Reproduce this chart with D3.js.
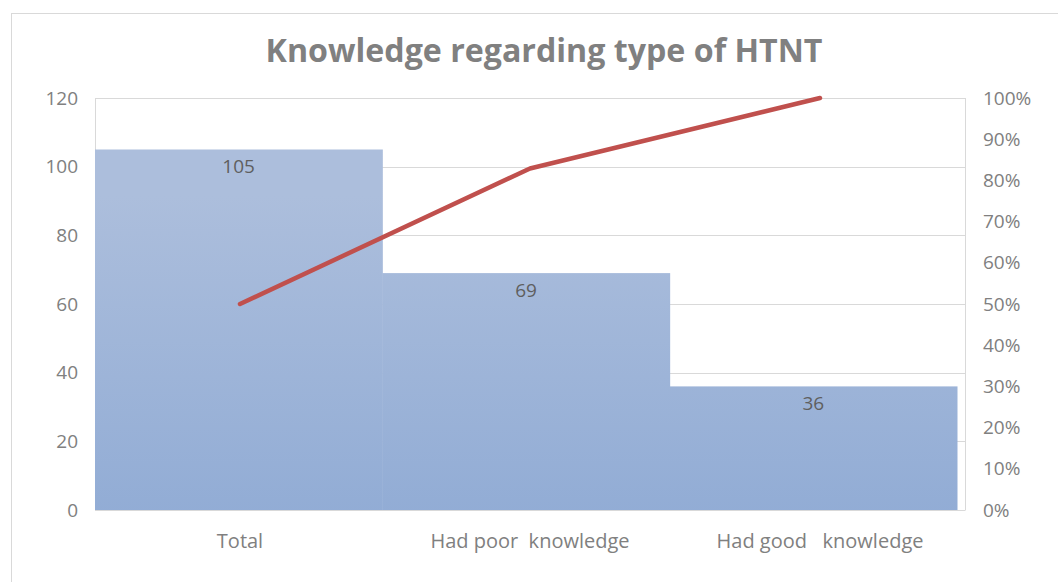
<!DOCTYPE html>
<html>
<head>
<meta charset="utf-8">
<script src="https://cdn.jsdelivr.net/npm/d3@7"></script>
<style>
  body { margin: 0; background: #fff; }
  svg text { font-family: "Open Sans", sans-serif; }
</style>
</head>
<body>
<svg id="chart" width="1058" height="582"></svg>
<script>
// chart values
var categories = ["Total", "Had poor  knowledge", "Had good   knowledge"];
var counts = [105, 69, 36];
var cumulative = [0.50, 0.829, 1.00];
var leftTicks = [0, 20, 40, 60, 80, 100, 120];
var rightTicks = [0, 0.1, 0.2, 0.3, 0.4, 0.5, 0.6, 0.7, 0.8, 0.9, 1.0];

var svg = d3.select("#chart");
var margin = {top: 98, left: 95, right: 93, bottom: 72};
var width = 1058 - margin.left - margin.right;
var height = 582 - margin.top - margin.bottom;

// chart area border
svg.append("rect")
  .attr("x", 11.5).attr("y", 13.5)
  .attr("width", 1100).attr("height", 700)
  .attr("fill", "#fff")
  .attr("stroke", "#d9d9d9");

svg.append("text")
  .attr("id", "title")
  .attr("x", 544)
  .attr("y", 62)
  .attr("text-anchor", "middle")
  .attr("fill", "#808080")
  .attr("font-weight", "bold")
  .attr("font-size", 30)
  .text("Knowledge regarding type of HTNT");

// squeeze title to the width it has in the reference
var t = svg.select("#title");
var tw = t.node().getComputedTextLength();
t.attr("font-size", 30 * 557 / tw);

var defs = svg.append("defs");
var grad = defs.append("linearGradient")
  .attr("id", "barFill")
  .attr("gradientUnits", "userSpaceOnUse")
  .attr("x1", 0).attr("y1", margin.top)
  .attr("x2", 0).attr("y2", margin.top + height);
grad.append("stop").attr("offset", "0%").attr("stop-color", "#acbedc");
grad.append("stop").attr("offset", "100%").attr("stop-color", "#8aa7d3");

var g = svg.append("g").attr("transform", "translate(" + margin.left + "," + margin.top + ")");

var xCat = d3.scaleBand().domain(categories).range([0, width]).padding(0);
var xBar = d3.scaleBand().domain(categories).range([0, width - 8]).padding(0);
var y = d3.scaleLinear().domain([0, 120]).range([height, 0]);
var y2 = d3.scaleLinear().domain([0, 1]).range([height, 0]);

// gridlines
g.append("g")
  .selectAll("line")
  .data(leftTicks)
  .enter().append("line")
  .attr("x1", 0).attr("x2", width)
  .attr("y1", function(d) { return Math.round(y(d)) + 0.5; })
  .attr("y2", function(d) { return Math.round(y(d)) + 0.5; })
  .attr("stroke", "#d9d9d9");

g.append("line")
  .attr("x1", 0.5).attr("x2", 0.5)
  .attr("y1", 0).attr("y2", height)
  .attr("stroke", "#d9d9d9");
g.append("line")
  .attr("x1", width + 0.5).attr("x2", width + 0.5)
  .attr("y1", 0).attr("y2", height)
  .attr("stroke", "#d9d9d9");

// bars
g.append("g")
  .selectAll("rect")
  .data(counts)
  .enter().append("rect")
  .attr("x", function(d, i) { return xBar(categories[i]); })
  .attr("y", function(d) { return y(d); })
  .attr("width", xBar.bandwidth() + 0.5)
  .attr("height", function(d) { return height - y(d); })
  .attr("fill", "url(#barFill)");

// bar labels
g.append("g")
  .selectAll("text")
  .data(counts)
  .enter().append("text")
  .attr("x", function(d, i) { return xBar(categories[i]) + xBar.bandwidth() / 2; })
  .attr("y", function(d) { return y(d) + 17; })
  .attr("dy", "0.35em")
  .attr("text-anchor", "middle")
  .attr("font-size", 19)
  .attr("fill", "#5f5f5f")
  .text(function(d) { return d; });

// left axis
var yAxis = g.append("g")
  .call(d3.axisLeft(y).tickValues(leftTicks).tickSize(0).tickPadding(17));
yAxis.select(".domain").remove();
yAxis.selectAll("text")
  .attr("font-size", 19)
  .attr("fill", "#808080")
  .attr("font-family", "Open Sans");

// right axis
var y2Axis = g.append("g")
  .attr("transform", "translate(" + width + ",0)")
  .call(d3.axisRight(y2).tickValues(rightTicks).tickSize(0).tickPadding(18).tickFormat(d3.format(".0%")));
y2Axis.select(".domain").remove();
y2Axis.selectAll("text")
  .attr("font-size", 19)
  .attr("fill", "#808080")
  .attr("font-family", "Open Sans");

// bottom axis
var xAxis = g.append("g")
  .attr("transform", "translate(0," + height + ")")
  .call(d3.axisBottom(xCat).tickSize(0).tickPadding(24));
xAxis.select(".domain")
  .attr("stroke", "#d9d9d9");
xAxis.selectAll("text")
  .attr("font-size", 20)
  .attr("fill", "#808080")
  .attr("font-family", "Open Sans")
  .style("white-space", "pre");

// cumulative line
var line = d3.line()
  .x(function(d, i) { return xCat(categories[i]) + xCat.bandwidth() / 2; })
  .y(function(d) { return y2(d); });

g.append("path")
  .datum(cumulative)
  .attr("d", line)
  .attr("fill", "none")
  .attr("stroke", "#c0504d")
  .attr("stroke-width", 4.5)
  .attr("stroke-linecap", "round")
  .attr("stroke-linejoin", "round");
</script>
</body>
</html>
